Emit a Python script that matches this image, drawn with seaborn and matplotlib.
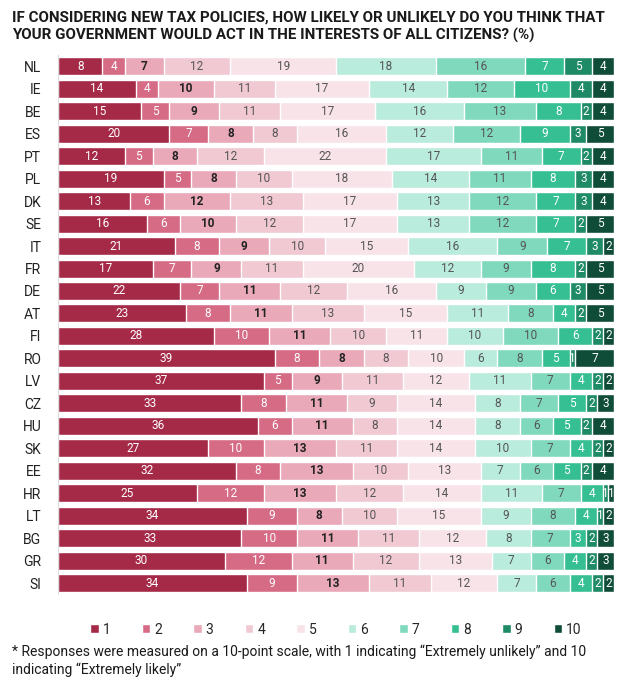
import numpy as np
import pandas as pd
import seaborn as sns
import matplotlib.pyplot as plt
from matplotlib.patches import Patch

# Country codes (top to bottom)
countries = ["NL", "IE", "BE", "ES", "PT", "PL", "DK", "SE", "IT", "FR", "DE", "AT",
             "FI", "RO", "LV", "CZ", "HU", "SK", "EE", "HR", "LT", "BG", "GR", "SI"]

# Share (%) answering each point of the 10-point scale
s1 = [8, 14, 15, 20, 12, 19, 13, 16, 21, 17, 22, 23, 28, 39, 37, 33, 36, 27, 32, 25, 34, 33, 30, 34]
s2 = [4, 4, 5, 7, 5, 5, 6, 6, 8, 7, 7, 8, 10, 8, 5, 8, 6, 10, 8, 12, 9, 10, 12, 9]
s3 = [7, 10, 9, 8, 8, 8, 12, 10, 9, 9, 11, 11, 11, 8, 9, 11, 11, 13, 13, 13, 8, 11, 11, 13]
s4 = [12, 11, 11, 8, 12, 10, 13, 12, 10, 11, 12, 13, 10, 8, 11, 9, 8, 11, 10, 12, 10, 11, 12, 11]
s5 = [19, 17, 17, 16, 22, 18, 17, 17, 15, 20, 16, 15, 11, 10, 12, 14, 14, 14, 13, 14, 15, 12, 13, 12]
s6 = [18, 14, 16, 12, 17, 14, 13, 13, 16, 12, 9, 11, 10, 6, 11, 8, 8, 10, 7, 11, 9, 8, 7, 7]
s7 = [16, 12, 13, 12, 11, 11, 12, 12, 9, 9, 9, 8, 10, 8, 7, 7, 6, 7, 6, 7, 8, 7, 6, 6]
s8 = [7, 10, 8, 9, 7, 8, 7, 7, 7, 8, 6, 4, 6, 5, 4, 5, 5, 4, 5, 4, 4, 3, 4, 4]
s9 = [5, 4, 2, 3, 2, 3, 3, 2, 3, 2, 3, 2, 2, 1, 2, 2, 2, 2, 2, 1, 1, 2, 2, 2]
s10 = [4, 4, 4, 5, 4, 4, 4, 5, 2, 5, 5, 5, 2, 7, 2, 3, 4, 2, 4, 1, 2, 3, 3, 2]

scale_labels = ["1", "2", "3", "4", "5", "6", "7", "8", "9", "10"]
colors = ["#a52a48", "#d66b86", "#e9a9b9", "#f1c9d3", "#f8e3e9",
          "#b9ecdc", "#80d9bd", "#36bf93", "#1f8a66", "#0f4d38"]
text_colors = ["white", "white", "#222222", "#555555", "#555555",
               "#555555", "#555555", "white", "white", "white"]

df = pd.DataFrame(np.array([s1, s2, s3, s4, s5, s6, s7, s8, s9, s10]).T,
                  index=countries, columns=scale_labels)
cum = df.cumsum(axis=1)

sns.set_style("white")
plt.rcParams['font.family'] = ['Roboto', 'DejaVu Sans']

fig = plt.figure(figsize=(6.34, 6.8), dpi=100)
ax = fig.add_axes([0.0915, 0.126, 0.877, 0.793])

# draw cumulative bars from the longest down so each segment shows
for i in range(len(scale_labels) - 1, -1, -1):
    sns.barplot(x=cum[scale_labels[i]].values, y=countries, orient="h",
                color=colors[i], saturation=1, width=0.8, ax=ax)

# segment labels
for i, lab in enumerate(scale_labels):
    starts = cum[lab] - df[lab]
    for j, c in enumerate(countries):
        v = df.loc[c, lab]
        ax.text(starts[c] + v / 2, j, str(v), ha="center", va="center",
                fontsize=8.5, color=text_colors[i],
                fontweight="bold" if i == 2 else "normal")

ax.set_xlim(0, cum["10"].max())
ax.set_xlabel("")
ax.set_ylabel("")
ax.set_xticks([])
ax.tick_params(axis="y", length=0, labelsize=10, labelcolor="#222222", pad=12)
for side in ["top", "right", "bottom"]:
    ax.spines[side].set_visible(False)
ax.spines["left"].set_color("#dddddd")

fig.text(0.019, 0.985,
         "IF CONSIDERING NEW TAX POLICIES, HOW LIKELY OR UNLIKELY DO YOU THINK THAT\n"
         "YOUR GOVERNMENT WOULD ACT IN THE INTERESTS OF ALL CITIZENS? (%)",
         ha="left", va="top", fontsize=10.9, fontweight="bold", color="#1a1a1a",
         linespacing=1.35)

handles = [Patch(facecolor=col, label=l) for col, l in zip(colors, scale_labels)]
fig.legend(handles=handles, loc="center", bbox_to_anchor=(0.53, 0.074), ncol=10,
           frameon=False, fontsize=10, handlelength=0.6, handleheight=0.6,
           handletextpad=0.3, columnspacing=2.25)

fig.text(0.019, 0.052,
         "* Responses were measured on a 10-point scale, with 1 indicating \u201cExtremely unlikely\u201d and 10\n"
         "indicating \u201cExtremely likely\u201d",
         ha="left", va="top", fontsize=10, color="#1a1a1a", linespacing=1.3)

fig.savefig("out.png", dpi=100)
